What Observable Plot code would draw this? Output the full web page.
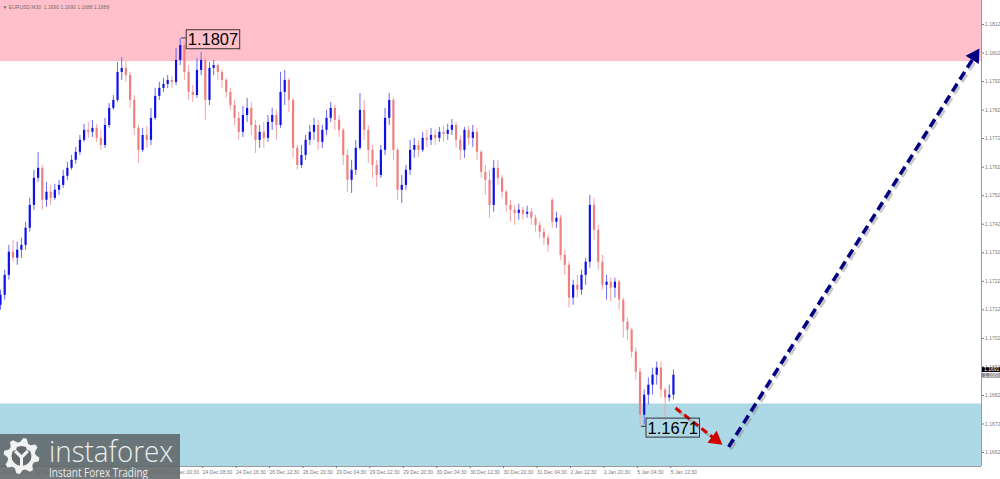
<!DOCTYPE html>
<html><head><meta charset="utf-8">
<script src="https://cdn.jsdelivr.net/npm/d3@7"></script>
<script src="https://cdn.jsdelivr.net/npm/@observablehq/plot@0.6"></script>
<style>
html,body{margin:0;padding:0;background:#fff;}
#wrap{position:relative;width:1000px;height:479px;overflow:hidden;}
#logo{position:absolute;left:0;top:0;}
</style></head><body><div id="wrap"></div>
<script>
// ---- data (EURUSD, hourly-grouped candles) ----
const opens = [1.17136,1.17171,1.17241,1.17322,1.17301,1.17329,1.17346,1.17406,1.17486,1.17581,1.17616,1.17504,1.17532,1.17511,1.17539,1.17556,1.17588,1.17616,1.17644,1.17672,1.17714,1.17749,1.17742,1.17756,1.17721,1.17696,1.17766,1.17826,1.17854,1.17952,1.17966,1.17941,1.17854,1.17756,1.17679,1.17731,1.17714,1.17791,1.17868,1.17896,1.17910,1.17924,1.17917,1.17994,1.18046,1.17952,1.17882,1.17871,1.17959,1.17994,1.17854,1.17966,1.17976,1.17952,1.17924,1.17882,1.17836,1.17791,1.17742,1.17801,1.17826,1.17766,1.17714,1.17742,1.17721,1.17777,1.17801,1.17766,1.17882,1.17924,1.17854,1.17686,1.17626,1.17661,1.17714,1.17742,1.17766,1.17707,1.17749,1.17791,1.17826,1.17784,1.17749,1.17661,1.17574,1.17609,1.17686,1.17819,1.17749,1.17679,1.17626,1.17591,1.17679,1.17791,1.17854,1.17679,1.17539,1.17556,1.17609,1.17679,1.17696,1.17679,1.17721,1.17714,1.17731,1.17721,1.17742,1.17735,1.17749,1.17766,1.17714,1.17679,1.17749,1.17721,1.17742,1.17672,1.17602,1.17574,1.17486,1.17616,1.17581,1.17532,1.17486,1.17469,1.17458,1.17469,1.17455,1.17462,1.17441,1.17416,1.17392,1.17371,1.17504,1.17427,1.17441,1.17311,1.17276,1.17161,1.17206,1.17189,1.17241,1.17287,1.17486,1.17399,1.17287,1.17206,1.17217,1.17196,1.17217,1.17154,1.17077,1.17049,1.16972,1.16902,1.16751,1.16821,1.16856,1.16891,1.16916,1.16839,1.16811,1.16821];
const highs = [1.17189,1.17259,1.17346,1.17364,1.17357,1.17371,1.17427,1.17511,1.17609,1.17672,1.17626,1.17567,1.17556,1.17560,1.17574,1.17609,1.17637,1.17661,1.17689,1.17731,1.17770,1.17777,1.17784,1.17770,1.17749,1.17791,1.17843,1.17871,1.17987,1.18004,1.17994,1.17952,1.17871,1.17766,1.17756,1.17763,1.17826,1.17896,1.17917,1.17931,1.17941,1.17938,1.18036,1.18071,1.18057,1.17976,1.17906,1.18001,1.18022,1.18001,1.17987,1.17994,1.17983,1.17959,1.17931,1.17896,1.17854,1.17812,1.17833,1.17861,1.17847,1.17784,1.17766,1.17777,1.17801,1.17826,1.17819,1.17952,1.17959,1.17931,1.17861,1.17696,1.17696,1.17731,1.17766,1.17791,1.17784,1.17766,1.17819,1.17847,1.17836,1.17801,1.17756,1.17679,1.17644,1.17714,1.17878,1.17854,1.17766,1.17696,1.17644,1.17696,1.17826,1.17878,1.17861,1.17686,1.17591,1.17626,1.17714,1.17721,1.17714,1.17742,1.17749,1.17756,1.17749,1.17759,1.17763,1.17770,1.17787,1.17777,1.17731,1.17759,1.17763,1.17766,1.17756,1.17679,1.17626,1.17609,1.17644,1.17644,1.17591,1.17539,1.17504,1.17486,1.17490,1.17479,1.17483,1.17476,1.17451,1.17427,1.17406,1.17381,1.17511,1.17462,1.17451,1.17329,1.17287,1.17224,1.17241,1.17259,1.17301,1.17521,1.17511,1.17416,1.17311,1.17241,1.17231,1.17231,1.17224,1.17161,1.17091,1.17056,1.16986,1.16916,1.16839,1.16881,1.16916,1.16937,1.16937,1.16846,1.16856,1.16909];
const lows = [1.17119,1.17154,1.17224,1.17287,1.17276,1.17301,1.17329,1.17392,1.17469,1.17567,1.17469,1.17479,1.17486,1.17504,1.17521,1.17546,1.17574,1.17609,1.17630,1.17661,1.17707,1.17721,1.17724,1.17707,1.17679,1.17686,1.17756,1.17819,1.17847,1.17924,1.17917,1.17826,1.17731,1.17633,1.17672,1.17686,1.17696,1.17784,1.17854,1.17882,1.17896,1.17896,1.17906,1.17976,1.17924,1.17854,1.17847,1.17861,1.17941,1.17784,1.17836,1.17941,1.17924,1.17896,1.17861,1.17819,1.17766,1.17714,1.17724,1.17777,1.17731,1.17668,1.17686,1.17686,1.17707,1.17749,1.17714,1.17756,1.17836,1.17812,1.17651,1.17609,1.17616,1.17644,1.17696,1.17714,1.17679,1.17686,1.17731,1.17777,1.17749,1.17724,1.17626,1.17532,1.17528,1.17591,1.17679,1.17714,1.17633,1.17581,1.17549,1.17581,1.17661,1.17766,1.17644,1.17504,1.17493,1.17539,1.17591,1.17651,1.17654,1.17672,1.17689,1.17696,1.17696,1.17707,1.17707,1.17714,1.17731,1.17686,1.17644,1.17651,1.17696,1.17689,1.17644,1.17581,1.17521,1.17441,1.17462,1.17556,1.17511,1.17462,1.17427,1.17416,1.17434,1.17434,1.17441,1.17416,1.17392,1.17371,1.17346,1.17322,1.17406,1.17406,1.17294,1.17241,1.17126,1.17136,1.17161,1.17171,1.17206,1.17266,1.17364,1.17259,1.17189,1.17154,1.17147,1.17161,1.17119,1.17021,1.17014,1.16951,1.16874,1.16710,1.16716,1.16786,1.16821,1.16856,1.16811,1.16734,1.16797,1.16804];
const closes = [1.17171,1.17241,1.17322,1.17301,1.17329,1.17346,1.17406,1.17486,1.17581,1.17616,1.17504,1.17532,1.17511,1.17539,1.17556,1.17588,1.17616,1.17644,1.17672,1.17714,1.17749,1.17742,1.17756,1.17721,1.17696,1.17766,1.17826,1.17854,1.17952,1.17966,1.17941,1.17854,1.17756,1.17679,1.17731,1.17714,1.17791,1.17868,1.17896,1.17910,1.17924,1.17917,1.17994,1.18046,1.17952,1.17882,1.17871,1.17959,1.17994,1.17854,1.17966,1.17976,1.17952,1.17924,1.17882,1.17836,1.17791,1.17742,1.17801,1.17826,1.17766,1.17714,1.17742,1.17721,1.17777,1.17801,1.17766,1.17882,1.17924,1.17854,1.17686,1.17626,1.17661,1.17714,1.17742,1.17766,1.17707,1.17749,1.17791,1.17826,1.17784,1.17749,1.17661,1.17574,1.17609,1.17686,1.17819,1.17749,1.17679,1.17626,1.17591,1.17679,1.17791,1.17854,1.17679,1.17539,1.17556,1.17609,1.17679,1.17696,1.17679,1.17721,1.17714,1.17731,1.17721,1.17742,1.17735,1.17749,1.17766,1.17714,1.17679,1.17749,1.17721,1.17742,1.17672,1.17602,1.17574,1.17486,1.17616,1.17581,1.17532,1.17486,1.17469,1.17458,1.17469,1.17455,1.17462,1.17441,1.17416,1.17392,1.17371,1.17346,1.17427,1.17441,1.17311,1.17276,1.17161,1.17206,1.17189,1.17241,1.17287,1.17486,1.17399,1.17287,1.17206,1.17217,1.17196,1.17217,1.17154,1.17077,1.17049,1.16972,1.16902,1.16751,1.16821,1.16856,1.16891,1.16916,1.16839,1.16811,1.16821,1.16891];

const tickIdx = [0,8,16,24,32,40,48,56,64,72,80,88,96,104,112,120,128,136,144,152,160];
const tickLabels = ["22 Dec 08:30","22 Dec 16:30","23 Dec 00:30","23 Dec 08:30","23 Dec 16:30","24 Dec 00:30","24 Dec 08:30","24 Dec 16:30","26 Dec 12:30","26 Dec 20:30","29 Dec 04:30","29 Dec 12:30","29 Dec 20:30","30 Dec 04:30","30 Dec 12:30","30 Dec 20:30","31 Dec 04:30","2 Jan 12:30","2 Jan 20:30","5 Jan 04:30","5 Jan 12:30"];
const yTicks = [1.1662,1.1672,1.1682,1.1692,1.1702,1.1712,1.1722,1.1732,1.1742,1.1752,1.1762,1.1772,1.1782,1.1792,1.1802,1.1812];

const resistanceZone = [1.1799, 1.18204];   // pink
const supportZone = [1.16571, 1.1679];      // light blue
const extremeLabels = [{i: 43, p: 1.18071, text: "1.1807"}, {i: 153, p: 1.16710, text: "1.1671"}];
const priceTags = [{p: 1.1691, text: "1.1691"}, {p: 1.1689, text: "1.1689"}];
const redArrow = [161.5, 1.16776, 172.7, 1.16647];
const blueArrow = [174.2, 1.16640, 234.2, 1.18036];
const headerText = "\u25BC EURUSD,M30  1.1690 1.1690 1.1688 1.1689";

// ---- layout ----
const W = 1000, H = 479, mR = 19, mB = 13;
const xDomain = [0, 234.7];
const yDomain = [1.16571, 1.18204];
const pxX = (W - mR) / (xDomain[1] - xDomain[0]);
const pxY = (H - mB) / (yDomain[1] - yDomain[0]);

const bars = opens.map((o, i) => ({i, o, h: highs[i], l: lows[i], c: closes[i], up: closes[i] >= opens[i]}));
const labelOf = new Map(tickIdx.map((t, k) => [t, tickLabels[k]]));

function arrowMarks(a, color, width, dash, r) {
  const [x1, y1, x2, y2] = a;
  const sx = (x2 - x1) * pxX, sy = -(y2 - y1) * pxY;
  const len = Math.hypot(sx, sy), ex = sx / len, ey = sy / len;
  const s = Math.sqrt(Math.PI * r * r / (3 * Math.sqrt(3)));
  const back = 2 * s;
  const lx2 = x2 - back * ex / pxX, ly2 = y2 + back * ey / pxY;
  const rot = Math.atan2(ex, -ey) * 180 / Math.PI;
  const seg = [{x1, y1, x2: lx2, y2: ly2}];
  return [
    Plot.link(seg, {x1: "x1", y1: "y1", x2: "x2", y2: "y2", stroke: "#888", strokeOpacity: 0.45, strokeWidth: width, strokeDasharray: dash, dx: 2, dy: 2.5, curve: "linear"}),
    Plot.link(seg, {x1: "x1", y1: "y1", x2: "x2", y2: "y2", stroke: color, strokeWidth: width, strokeDasharray: dash, curve: "linear"}),
    Plot.dot([{x: x2, y: y2}], {x: "x", y: "y", symbol: "triangle", r, fill: color, stroke: "none", rotate: rot, dx: -back * ex, dy: -back * ey})
  ];
}

const chart = Plot.plot({
  width: W, height: H,
  marginLeft: 0, marginRight: mR, marginTop: 0, marginBottom: mB,
  x: {domain: xDomain, axis: null},
  y: {domain: yDomain, axis: null},
  style: {fontFamily: "'Liberation Sans', Arial, sans-serif", background: "white", overflow: "visible"},
  marks: [
    Plot.rect([resistanceZone], {x1: () => xDomain[0], x2: () => xDomain[1], y1: d => d[0], y2: d => d[1], fill: "#ffc0cb"}),
    Plot.rect([supportZone], {x1: () => xDomain[0], x2: () => xDomain[1], y1: d => d[0], y2: d => d[1], fill: "#add8e6"}),
    Plot.ruleX(bars, {x: "i", y1: "l", y2: "h", stroke: d => d.up ? "#6a6af4" : "#f4a4a4", strokeWidth: 1}),
    Plot.ruleX(bars, {x: "i", y1: "o", y2: "c", stroke: d => d.up ? "#1010e6" : "#ef8080", strokeWidth: 2.2}),
    ...arrowMarks(redArrow, "#d00000", 3, "7,4", 5.6),
    ...arrowMarks(blueArrow, "#000080", 3.5, "9,5", 5.8),
    Plot.text(extremeLabels, {x: "i", y: "p", text: "text", textAnchor: "start", dx: 7.5, dy: 1.5, fontSize: 16.5, fill: "#000"}),
    Plot.ruleX([xDomain[1]], {stroke: "#9a9a9a"}),
    Plot.ruleY([yDomain[0]], {stroke: "#9a9a9a"}),
    Plot.axisY({ticks: yTicks, anchor: "right", tickFormat: d => d.toFixed(4), fontSize: 5, tickSize: 2, tickPadding: 1.5, color: "#7a7a7a"}),
    Plot.axisX({ticks: tickIdx, tickFormat: d => labelOf.get(d), textAnchor: "start", dx: 1.5, fontSize: 5, tickSize: 2, tickPadding: 1.5, color: "#7a7a7a"}),
    Plot.text(priceTags, {y: "p", text: "text", frameAnchor: "right", textAnchor: "start", dx: 2.5, fontSize: 5, fill: (d, k) => k === 0 ? "#ffffff" : "#f0f0f0"}),
    Plot.text([headerText], {frameAnchor: "top-left", dx: 2, dy: 5, fontSize: 5, fill: "#707070", textAnchor: "start"})
  ]
});

const wrap = document.getElementById("wrap");
wrap.appendChild(chart);

// boxes around the labelled extremes and the live price tags
const NS = "http://www.w3.org/2000/svg";
const sr = chart.getBoundingClientRect();
const boxSpecs = {
  "1.1807": {stroke: "#333", fill: "none", tick: 1.18071},
  "1.1671": {stroke: "#333", fill: "none", tick: 1.16710},
  "1.1691": {stroke: "none", fill: "#000000"},
  "1.1689": {stroke: "none", fill: "#8a8a8a"}
};
chart.querySelectorAll("text").forEach(t => {
  const spec = boxSpecs[t.textContent];
  if (!spec) return;
  const b = t.getBoundingClientRect();
  const r = document.createElementNS(NS, "rect");
  let x = b.left - sr.left, y = b.top - sr.top, w = b.width, h = b.height;
  if (spec.fill !== "none") { x = W - mR + 1; w = mR - 1; y += 0.8; h -= 1.2; }
  else { x -= 1.5; w += 3; y -= 0.5; h += 1; }
  r.setAttribute("x", x); r.setAttribute("y", y); r.setAttribute("width", w); r.setAttribute("height", h);
  r.setAttribute("fill", spec.fill); r.setAttribute("stroke", spec.stroke); r.setAttribute("stroke-width", 1);
  let g = t; while (g.parentNode && g.parentNode !== chart) g = g.parentNode;
  chart.insertBefore(r, g);
  if (spec.tick !== undefined) {
    const ty = (yDomain[1] - spec.tick) * pxY;
    const ln = document.createElementNS(NS, "line");
    ln.setAttribute("x1", x - 5); ln.setAttribute("x2", x); ln.setAttribute("y1", ty); ln.setAttribute("y2", ty);
    ln.setAttribute("stroke", "#333"); ln.setAttribute("stroke-width", 1);
    chart.insertBefore(ln, g);
  }
});

// watermark logo
function gearPath(cx, cy, rOut, rIn, teeth) {
  const pts = [], n = teeth * 4;
  for (let k = 0; k < n; k++) {
    const a = (k + 0.5) / n * 2 * Math.PI - Math.PI / 2;
    const r = (k % 4 < 2) ? rOut : rIn;
    pts.push([cx + r * Math.cos(a), cy + r * Math.sin(a)]);
  }
  return "M" + pts.map(p => p[0].toFixed(2) + "," + p[1].toFixed(2)).join("L") + "Z";
}
const logo = document.createElementNS(NS, "svg");
logo.setAttribute("id", "logo"); logo.setAttribute("width", W); logo.setAttribute("height", H);
logo.innerHTML = `
  <rect x="0" y="434" width="180" height="45" fill="rgb(96,102,105)" fill-opacity="0.88"/>
  <path d="${gearPath(21.5, 456, 18, 14, 8)}" fill="#f2f2f2"/>
  <circle cx="21.5" cy="456" r="10" fill="rgb(100,106,109)"/>
  <path d="M20 468 L20 458 L14 452 L16.5 450 L21.5 455 L26.5 450 L29 452 L23 458 L23 468 Z" fill="#f2f2f2"/>
  <circle cx="14" cy="448" r="2.6" fill="#f2f2f2"/>
  <circle cx="29" cy="448" r="2.6" fill="#f2f2f2"/>
  <text x="49" y="461.5" font-family="'Open Sans', Lato, sans-serif" font-weight="300" font-size="30" fill="#ececec" textLength="124" lengthAdjust="spacingAndGlyphs">instaforex</text>
  <text x="49" y="476.5" font-family="'Open Sans', Lato, sans-serif" font-size="13.5" fill="#ececec" textLength="99" lengthAdjust="spacingAndGlyphs">Instant Forex Trading</text>`;
wrap.appendChild(logo);
</script>
</body></html>
